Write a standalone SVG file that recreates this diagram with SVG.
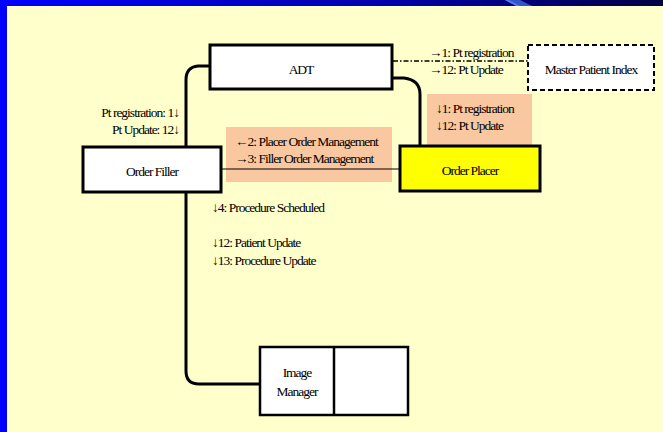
<svg xmlns="http://www.w3.org/2000/svg" width="663" height="432" viewBox="0 0 663 432" font-family="'Liberation Serif','Times New Roman',serif">
<defs>
<linearGradient id="topg" x1="0" y1="0" x2="1" y2="0">
<stop offset="0" stop-color="#0000FF"/>
<stop offset="0.6" stop-color="#0000A8"/>
<stop offset="1" stop-color="#000045"/>
</linearGradient>
</defs>
<style>
text{font-family:"Liberation Serif","Times New Roman",serif;font-size:13.5px;fill:#000;letter-spacing:-1px}
.box{fill:#fff;stroke:#000;stroke-width:3}
.conn{fill:none;stroke:#000;stroke-width:3}
.thin{fill:none;stroke:#000;stroke-width:1}
.peach{fill:#FAC8A0}
.mid{text-anchor:middle}
.end{text-anchor:end}
</style>
<rect x="0" y="0" width="663" height="432" fill="#FFFFCC"/>
<rect x="0" y="0" width="663" height="6" fill="url(#topg)"/>
<rect x="0" y="0" width="7" height="432" fill="#0000FF"/>
<polygon points="505,0 520,0 532,6 517,6" fill="#3355CC"/>
<polygon points="505,0 509,0 520,6 516,6" fill="#5577EE"/>

<rect class="peach" x="226" y="127" width="166" height="55"/>
<rect class="peach" x="427" y="94" width="105" height="53"/>

<g id="connectors">
<path class="conn" d="M210,66 H198 Q186,67 186,80 V147"/>
<path class="conn" d="M186,193 V371 Q186,384 199,384 H260"/>
<path class="conn" d="M392,78 H404 Q420,80 420,94 V146"/>
<line class="thin" x1="221" y1="169" x2="400" y2="169"/>
<line x1="393" y1="61" x2="528" y2="61" stroke="#000" stroke-width="1.5" stroke-dasharray="5,2,1.5,2"/>
</g>

<g id="adt">
<rect class="box" x="210" y="45" width="182" height="44"/>
<text class="mid" x="301" y="74">ADT</text>
</g>
<g id="mpi">
<rect x="528" y="45" width="126" height="45" fill="#fff" stroke="#000" stroke-width="2" stroke-dasharray="5,3"/>
<text class="mid" x="591" y="74">Master Patient Index</text>
</g>
<g id="order-filler">
<rect class="box" x="83" y="147" width="138" height="45"/>
<text class="mid" x="152" y="176">Order Filler</text>
</g>
<g id="order-placer">
<rect x="400" y="146" width="140" height="45" fill="#FFFF00" stroke="#000" stroke-width="3"/>
<text class="mid" x="470" y="175">Order Placer</text>
</g>
<g id="image-manager">
<rect x="260" y="347" width="148" height="68" fill="#fff" stroke="#000" stroke-width="2.5"/>
<line x1="334" y1="347" x2="334" y2="415" stroke="#000" stroke-width="2.5"/>
<text class="mid" x="297" y="377">Image</text>
<text class="mid" x="297" y="396">Manager</text>
</g>

<g id="labels">
<text x="429" y="57">→1: Pt registration</text>
<text x="429" y="74">→12: Pt Update</text>
<text class="end" x="179" y="117">Pt registration: 1↓</text>
<text class="end" x="179" y="134">Pt Update: 12↓</text>
<text x="235" y="146">←2: Placer Order Management</text>
<text x="235" y="163">→3: Filler Order Management</text>
<text x="436" y="113">↓1: Pt registration</text>
<text x="436" y="130">↓12: Pt Update</text>
<text x="212" y="212">↓4: Procedure Scheduled</text>
<text x="212" y="247">↓12: Patient Update</text>
<text x="212" y="265">↓13: Procedure Update</text>
</g>
</svg>
